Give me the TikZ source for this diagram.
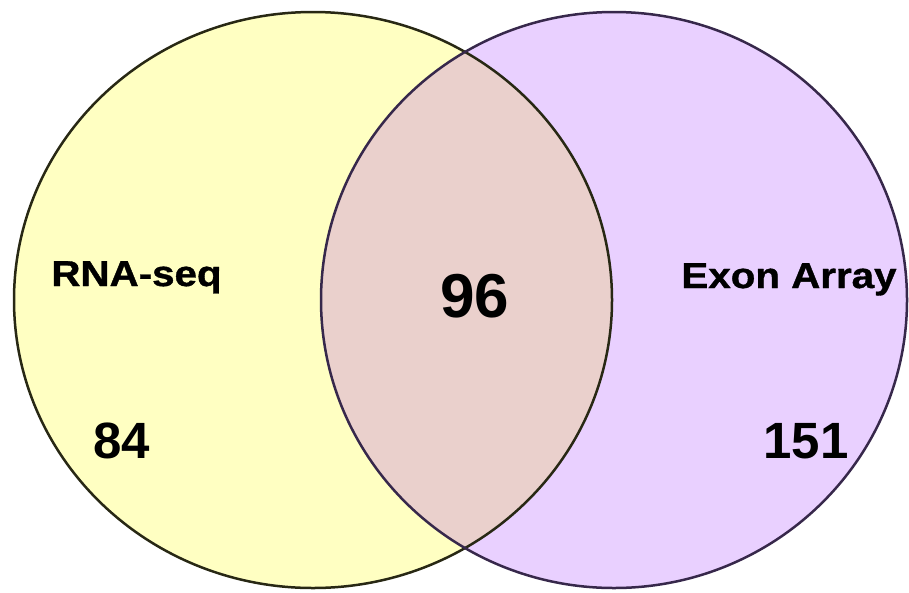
\documentclass[tikz,border=0pt]{standalone}
\usepackage{fontspec}
\setmainfont{Liberation Sans}
\newfontfamily\heavyfont{Liberation Sans Bold}[FakeBold=1.0]
\definecolor{setA}{RGB}{255,255,194}
\definecolor{setB}{RGB}{233,208,255}
\definecolor{setAB}{RGB}{234,208,204}
\definecolor{edgeA}{RGB}{40,40,20}
\definecolor{edgeB}{RGB}{55,40,75}
\tikzset{
  setname/.style={anchor=base,inner sep=0pt,font=\heavyfont\fontsize{36}{36}\selectfont,xscale=1.12},
  bignum/.style={anchor=base,inner sep=0pt,font=\bfseries\fontsize{62}{62}\selectfont},
  count/.style={anchor=base,inner sep=0pt,font=\bfseries\fontsize{51}{51}\selectfont},
  outline/.style={line width=2.5pt}
}
\begin{document}
\begin{tikzpicture}[x=1pt,y=-1pt]
\useasboundingbox (0,0) rectangle (909,592);
\fill[setA] (313,300) ellipse [x radius=299, y radius=288];
\fill[setB] (614,300) ellipse [x radius=293, y radius=288];
\begin{scope}
  \clip (313,300) ellipse [x radius=299, y radius=288];
  \fill[setAB] (614,300) ellipse [x radius=293, y radius=288];
\end{scope}
\draw[outline,edgeA] (313,300) ellipse [x radius=299, y radius=288];
\draw[outline,edgeB] (614,300) ellipse [x radius=293, y radius=288];
\node[setname] (rna) at (136.5,286) {RNA-seq};
\node[setname] (exon) at (789,288) {Exon Array};
\node[bignum] (both) at (474.5,317) {96};
\node[count] (onlyA) at (121.5,458) {84};
\node[count] (onlyB) at (806,458) {151};
\end{tikzpicture}
\end{document}
